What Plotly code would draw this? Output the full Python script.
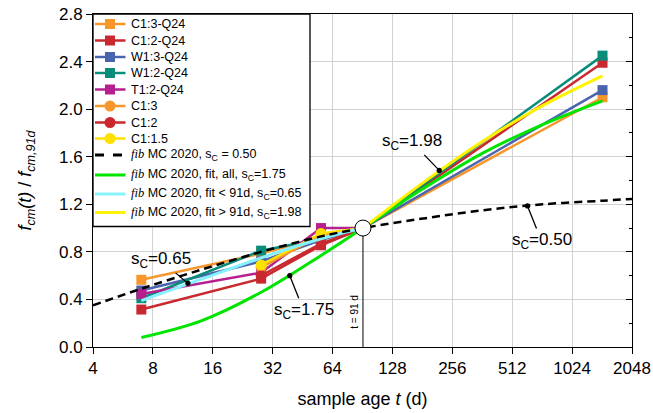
import math
import plotly.graph_objects as go

# ---------------- data ----------------
ages_q24 = [7, 28, 56, 91, 1456]
c13_q24 = [0.565, 0.785, 0.92, 1.0, 2.10]
c12_q24 = [0.315, 0.575, 0.855, 1.0, 2.39]
w13_q24 = [0.475, 0.72, 0.90, 1.0, 2.16]
w12_q24 = [0.41, 0.81, 0.91, 1.0, 2.45]
ages_t12 = [7, 28, 56, 91]
t12_q24 = [0.445, 0.625, 1.0, 1.0]

ages_circ = [28, 56, 91]
c13 = [0.67, 0.94, 1.0]
c12 = [0.60, 0.87, 1.0]
c115 = [0.69, 0.955, 1.0]

t_mc = [4, 7, 14, 28, 56, 91, 182, 364, 728, 1456, 2048]
mc_050 = [0.35, 0.49, 0.65, 0.80, 0.93, 1.00, 1.08, 1.15, 1.20, 1.23, 1.245]
t_all = [7, 14, 28, 56, 91, 182, 364, 728, 1456]
fit_all = [0.08, 0.22, 0.46, 0.77, 1.00, 1.33, 1.63, 1.87, 2.07]
t_lt = [7, 14, 28, 56, 91]
fit_lt = [0.39, 0.57, 0.75, 0.91, 1.00]
t_gt = [91, 182, 364, 728, 1456]
fit_gt = [1.00, 1.38, 1.73, 2.03, 2.28]

ref_age = [91]
ref_val = [1.0]

x_ticks = [4, 8, 16, 32, 64, 128, 256, 512, 1024, 2048]
x_ticktext = [str(v) for v in x_ticks]
y_ticks = [0.0, 0.4, 0.8, 1.2, 1.6, 2.0, 2.4, 2.8]

FIB = "<span style=\"font-family:'Liberation Serif'\"><i>fib</i></span>"
names = ["C1:3-Q24", "C1:2-Q24", "W1:3-Q24", "W1:2-Q24", "T1:2-Q24",
         "C1:3", "C1:2", "C1:1.5",
         FIB + " MC 2020, s<sub>C</sub> = 0.50",
         FIB + " MC 2020, fit, all, s<sub>C</sub>=1.75",
         FIB + " MC 2020, fit &lt; 91d, s<sub>C</sub>=0.65",
         FIB + " MC 2020, fit &gt; 91d, s<sub>C</sub>=1.98"]

# annotation labels: (text, dot age, dot value, ax, ay)
labels = [("s<sub>C</sub>=0.65", 12.0, 0.535, -27, -23),
          ("s<sub>C</sub>=1.75", 39.0, 0.60, 14, 35),
          ("s<sub>C</sub>=1.98", 220.0, 1.485, -27, -28),
          ("s<sub>C</sub>=0.50", 611.0, 1.186, 14, 35)]

# ---------------- styles ----------------
ORANGE = "#F7962B"
RED = "#C8282E"
BLUE = "#4A64AE"
TEAL = "#0A8C7A"
MAGENTA = "#B5208E"
YELLOW = "#FFE100"
GREEN = "#00E400"
CYAN = "#86F2FF"
FITYEL = "#FFF200"

W, H = 653, 413
L, R, T, B = 93, 21, 14, 66
PW = W - L - R
PH = H - T - B


def px(xp):
    return (xp - L) / PW


def py(yp):
    return (H - B - yp) / PH


fig = go.Figure()

series = [
    (ages_q24, c13_q24, ORANGE, "square"),
    (ages_q24, c12_q24, RED, "square"),
    (ages_q24, w13_q24, BLUE, "square"),
    (ages_q24, w12_q24, TEAL, "square"),
    (ages_t12, t12_q24, MAGENTA, "square"),
    (ages_circ, c13, ORANGE, "circle"),
    (ages_circ, c12, RED, "circle"),
    (ages_circ, c115, YELLOW, "circle"),
]
for i, (xs, ys, col, sym) in enumerate(series):
    fig.add_trace(go.Scatter(
        x=xs, y=ys, mode="lines+markers", name=names[i], showlegend=False,
        line=dict(color=col, width=2.5),
        marker=dict(symbol=sym, size=10 if sym == "square" else 11, color=col, line=dict(width=0)),
    ))

fig.add_trace(go.Scatter(x=t_all, y=fit_all, mode="lines", name=names[9], showlegend=False,
                         line=dict(color=GREEN, width=3, shape="spline")))
fig.add_trace(go.Scatter(x=t_lt, y=fit_lt, mode="lines", name=names[10], showlegend=False,
                         line=dict(color=CYAN, width=3, shape="spline")))
fig.add_trace(go.Scatter(x=t_gt, y=fit_gt, mode="lines", name=names[11], showlegend=False,
                         line=dict(color=FITYEL, width=3, shape="spline")))
fig.add_trace(go.Scatter(x=t_mc, y=mc_050, mode="lines", name=names[8], showlegend=False,
                         line=dict(color="black", width=2.5, dash="8px,5px", shape="spline")))

# vertical reference line at 91 d and the white normalisation point
fig.add_trace(go.Scatter(x=[ref_age[0], ref_age[0]], y=[0, ref_val[0]], mode="lines",
                         showlegend=False, line=dict(color="black", width=1)))
fig.add_trace(go.Scatter(x=ref_age, y=ref_val, mode="markers", showlegend=False,
                         marker=dict(symbol="circle", size=16, color="white",
                                     line=dict(color="black", width=1))))
# invisible trace to activate right-hand tick axis
fig.add_trace(go.Scatter(x=ref_age, y=ref_val, yaxis="y2", mode="markers", showlegend=False,
                         marker=dict(opacity=0), hoverinfo="skip"))

FONT = "Arial, 'Liberation Sans', sans-serif"
GRID = "#d2d2d2"

annotations = []
for text, t, v, ax, ay in labels:
    annotations.append(dict(x=math.log10(t), y=v, xref="x", yref="y", text=text,
                            showarrow=True, arrowhead=6, arrowsize=1, arrowwidth=1.3,
                            arrowcolor="black", standoff=0, ax=ax, ay=ay,
                            font=dict(size=17, color="black", family=FONT)))
annotations.append(dict(x=math.log10(ref_age[0]), y=0.3, xref="x", yref="y", text="t = 91 d",
                        showarrow=False, textangle=-90, xanchor="right", xshift=-1,
                        font=dict(size=10, color="black", family=FONT)))

# ---------------- manual legend ----------------
shapes = []
leg_y = [24, 40.5, 57, 73, 89.5, 106, 122.5, 138.5, 155, 175, 194, 212.5]
leg_cols = [ORANGE, RED, BLUE, TEAL, MAGENTA, ORANGE, RED, YELLOW, "black", GREEN, CYAN, FITYEL]
leg_sym = ["square"] * 5 + ["circle"] * 3 + [None] * 4
shapes.append(dict(type="rect", xref="paper", yref="paper", x0=px(93), x1=px(310),
                   y0=py(226.5), y1=py(14), fillcolor="white",
                   line=dict(color="black", width=1.3), layer="above"))
for i, yy in enumerate(leg_y):
    col = leg_cols[i]
    sym = leg_sym[i]
    lw = 2.5 if sym else 3
    dash = "dash" if i == 8 else "solid"
    shapes.append(dict(type="line", xref="paper", yref="paper", x0=px(95), x1=px(125.5),
                       y0=py(yy), y1=py(yy), line=dict(color=col, width=lw, dash=dash),
                       layer="above"))
    if sym == "square":
        shapes.append(dict(type="rect", xref="paper", yref="paper", x0=px(105), x1=px(115),
                           y0=py(yy + 5), y1=py(yy - 5), fillcolor=col,
                           line=dict(width=0), layer="above"))
    elif sym == "circle":
        shapes.append(dict(type="circle", xref="paper", yref="paper", x0=px(104.5), x1=px(115.5),
                           y0=py(yy + 5.5), y1=py(yy - 5.5), fillcolor=col,
                           line=dict(width=0), layer="above"))
    annotations.append(dict(x=px(129), y=py(yy), xref="paper", yref="paper", text=names[i],
                            showarrow=False, xanchor="left", yanchor="middle",
                            font=dict(size=12.5, color="black", family=FONT)))

fig.update_layout(
    width=W, height=H,
    margin=dict(l=L, r=R, t=T, b=B, autoexpand=False),
    paper_bgcolor="white", plot_bgcolor="white",
    font=dict(family=FONT, color="black"),
    showlegend=False,
    xaxis=dict(type="log", range=[math.log10(4), math.log10(2048)],
               tickvals=x_ticks, ticktext=x_ticktext, automargin=False,
               showgrid=True, gridcolor=GRID, gridwidth=1,
               showline=True, linecolor="black", linewidth=1, mirror=True,
               ticks="outside", ticklen=6, tickcolor="black",
               tickfont=dict(size=17),
               title=dict(text="sample age <i>t</i> (d)", font=dict(size=18), standoff=14),
               zeroline=False),
    yaxis=dict(range=[0, 2.8], tickvals=y_ticks, tickformat=".1f", automargin=False,
               showgrid=True, gridcolor=GRID, gridwidth=1,
               showline=True, linecolor="black", linewidth=1, mirror=True,
               ticks="outside", ticklen=6, tickcolor="black",
               tickfont=dict(size=17),
               title=dict(text="<i>f</i><sub><i>cm</i></sub><i>(t)</i> / <i>f</i><sub><i>cm,91d</i></sub>",
                          font=dict(size=18), standoff=22),
               zeroline=False),
    yaxis2=dict(range=[0, 2.8], overlaying="y", side="right", tickvals=y_ticks, automargin=False,
                showticklabels=False, showgrid=False, zeroline=False,
                ticks="inside", ticklen=6, tickcolor="black",
                minor=dict(dtick=0.2, ticks="inside", ticklen=3, tickcolor="black", showgrid=False)),
    annotations=annotations,
    shapes=shapes,
)

fig.write_html("out.html", config={"displayModeBar": False},
               post_script="document.body.style.margin='0';")
